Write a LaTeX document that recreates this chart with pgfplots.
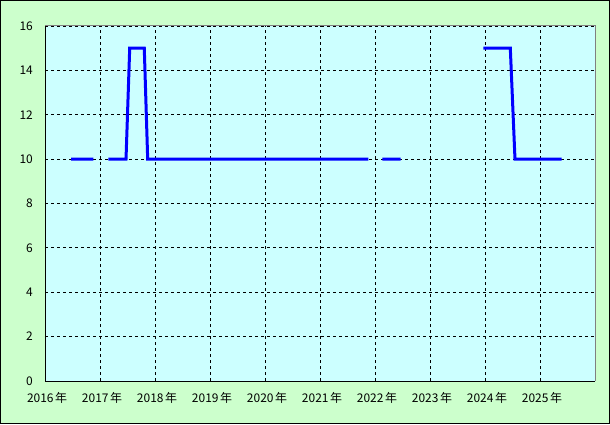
\documentclass[border=0pt]{standalone}
\usepackage{pgfplots}
\pgfplotsset{compat=1.18}
\usepackage{fontspec}
\setmainfont{Noto Sans CJK JP}
\definecolor{outerbg}{RGB}{204,255,204}
\definecolor{plotbg}{RGB}{204,255,255}
\definecolor{frameg}{RGB}{128,128,128}
\newcommand{\nen}{\kern1.5bp 年}
\begin{document}
\begin{tikzpicture}[x=1bp,y=1bp]
\useasboundingbox (0,0) rectangle (610,424);
\fill[outerbg] (0,0) rectangle (610,424);
\begin{axis}[
  at={(45bp,43bp)}, anchor=south west,
  scale only axis, width=550bp, height=355bp,
  axis background/.style={fill=plotbg},
  axis line style={draw=none},
  xmin=2016, xmax=2026, ymin=0, ymax=16,
  xtick={2016,...,2025},
  xticklabels={2016\nen,2017\nen,2018\nen,2019\nen,2020\nen,2021\nen,2022\nen,2023\nen,2024\nen,2025\nen},
  ytick={0,2,...,16},
  grid=major,
  grid style={black, dash pattern=on 3bp off 3bp, line width=0.8bp},
  major tick length=0pt,
  tick label style={font=\fontsize{12}{14}\selectfont},
  /pgf/number format/assume math mode=true,
  yticklabel style={anchor=east, inner sep=0pt, xshift=-12bp},
  xticklabel style={anchor=north, inner sep=0pt, yshift=-11bp, xshift=2bp},
  unbounded coords=jump,
  clip=false,
]
\addplot[color=blue, line width=3bp] table {
x y
2016.473 10
2016.878 10
nan nan
2017.151 10
2017.473 10
2017.540 15
2017.805 15
2017.867 10
2021.878 10
nan nan
2022.133 10
2022.467 10
nan nan
2023.969 15
2024.460 15
2024.545 10
2025.395 10
};
\end{axis}
\draw[frameg, line width=1bp] (45,398) -- (595,398) -- (595,43);
\draw[black, line width=1bp] (45,398) -- (45,43) -- (595,43);
\draw[black, line width=1bp] (0.5,0.5) rectangle (609.5,423.5);
\end{tikzpicture}
\end{document}
